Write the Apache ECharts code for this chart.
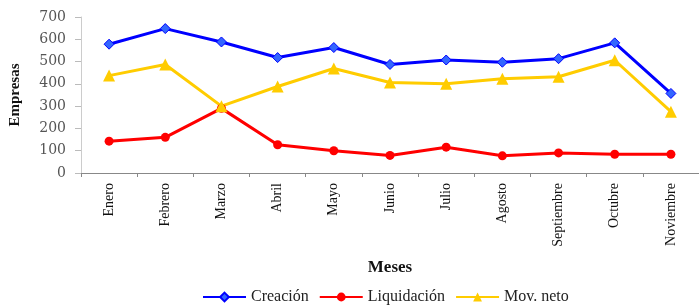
<!DOCTYPE html>
<html>
<head>
<meta charset="utf-8">
<script src="https://cdn.jsdelivr.net/npm/echarts@6/dist/echarts.min.js"></script>
<style>
  html, body { margin: 0; padding: 0; background: #fff; }
  #chart { width: 699px; height: 306px; }
</style>
</head>
<body>
<div id="chart"></div>
<script>
// Meses del año (sin diciembre)
const meses = ['Enero', 'Febrero', 'Marzo', 'Abril', 'Mayo', 'Junio', 'Julio', 'Agosto', 'Septiembre', 'Octubre', 'Noviembre'];

// Número de empresas por mes
const creacion = [578, 648, 588, 518, 563, 487, 507, 497, 513, 584, 357];
const liquidacion = [143, 160, 290, 127, 100, 79, 116, 77, 90, 84, 84];
const movNeto = [437, 487, 300, 388, 469, 406, 400, 423, 432, 506, 275];

const FONT = '"Liberation Serif", "DejaVu Serif", serif';

const chart = echarts.init(document.getElementById('chart'));

const option = {
  animation: false,
  textStyle: { fontFamily: FONT },
  grid: { left: 79, right: -4, top: 17, bottom: 133, containLabel: false },
  legend: {
    top: 289,
    left: 202,
    padding: 0,
    itemWidth: 43,
    itemHeight: 11,
    itemGap: 10,
    textStyle: { fontFamily: FONT, fontSize: 16, color: '#222' },
    data: ['Creación', 'Liquidación', 'Mov. neto'],
  },
  xAxis: {
    type: 'category',
    data: meses,
    boundaryGap: true,
    name: 'Meses',
    nameLocation: 'middle',
    nameGap: 86,
    nameTextStyle: { fontFamily: FONT, fontSize: 17, fontWeight: 'bold', color: '#111' },
    axisLine: { lineStyle: { color: '#888', width: 1 } },
    axisTick: { show: true, length: 4, lineStyle: { color: '#888' } },
    axisLabel: { rotate: 90, margin: 10, fontSize: 14, color: '#111', fontFamily: FONT },
  },
  yAxis: {
    type: 'value',
    min: 0,
    max: 700,
    interval: 100,
    name: 'Empresas',
    nameLocation: 'middle',
    nameGap: 58,
    nameTextStyle: { fontFamily: FONT, fontSize: 15, fontWeight: 'bold', color: '#111' },
    axisLine: { show: true, lineStyle: { color: '#ccc', width: 1 } },
    axisTick: { show: true, length: 6, lineStyle: { color: '#bbb' } },
    splitLine: { show: false },
    axisLabel: { margin: 15, fontSize: 14, color: '#555', fontFamily: '"DejaVu Serif", serif' },
  },
  series: [
    {
      name: 'Creación',
      type: 'line',
      data: creacion,
      symbol: 'diamond',
      symbolSize: 10,
      lineStyle: { color: '#0000ff', width: 3 },
      itemStyle: { color: '#3366ff', borderColor: '#0000ff', borderWidth: 1 },
    },
    {
      name: 'Liquidación',
      type: 'line',
      data: liquidacion,
      symbol: 'circle',
      symbolSize: 9,
      lineStyle: { color: '#ff0000', width: 3 },
      itemStyle: { color: '#ff0000' },
    },
    {
      name: 'Mov. neto',
      type: 'line',
      data: movNeto,
      symbol: 'triangle',
      symbolSize: 12,
      lineStyle: { color: '#ffcc00', width: 3 },
      itemStyle: { color: '#ffcc00' },
    },
  ],
};

chart.setOption(option);
</script>
</body>
</html>
